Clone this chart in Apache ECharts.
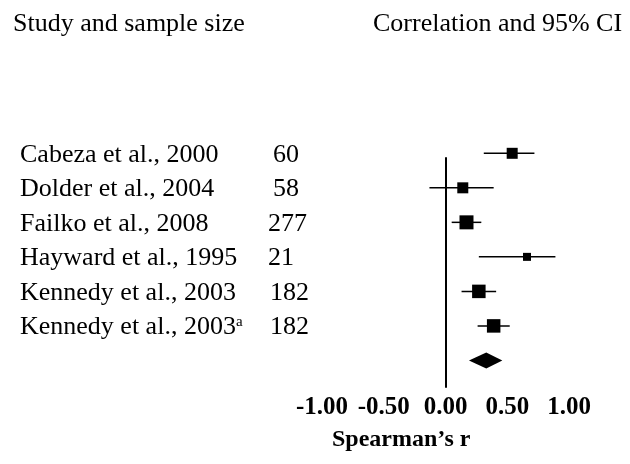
<!DOCTYPE html>
<html>
<head>
<meta charset="utf-8">
<script src="https://cdn.jsdelivr.net/npm/echarts@6/dist/echarts.min.js"></script>
<style>
html, body { margin: 0; padding: 0; background: #fff; }
#chart { width: 630px; height: 464px; }
</style>
</head>
<body>
<div id="chart"></div>
<script>
// 数据
var studies = ['Cabeza et al., 2000', 'Dolder et al., 2004', 'Failko et al., 2008', 'Hayward et al., 1995', 'Kennedy et al., 2003', 'Kennedy et al., 2003'];
var notes = ['', '', '', '', '', 'a'];
var sampleSizes = [60, 58, 277, 21, 182, 182];
var estimates = [0.54, 0.14, 0.17, 0.66, 0.27, 0.39];
var lower = [0.31, -0.13, 0.05, 0.27, 0.13, 0.26];
var upper = [0.72, 0.39, 0.29, 0.89, 0.41, 0.52];
var pooled = [0.33, 0.19, 0.46]; // estimate, lower, upper
var xTicks = [-1, -0.5, 0, 0.5, 1];

// 样式
var FONT = 'Liberation Serif';
var boxPx = [11, 11, 14, 8, 13.5, 13.5];
var nLeft = [273, 273, 268, 268, 270, 270];

function textStyle(txt, size, weight) {
	return { text: txt, fontFamily: FONT, fontSize: size, fontWeight: weight || 'normal', fill: '#000' };
}

function drowChart() {
	var myChart = echarts.init(document.getElementById('chart'));
	var rows = studies.map(function (s, i) { return [i, estimates[i], lower[i], upper[i]]; });
	var pooledRow = studies.length;

	var option = {
		animation: false,
		grid: { left: 322, right: 61, top: 158, bottom: 77 },
		xAxis: {
			type: 'value',
			min: xTicks[0],
			max: xTicks[xTicks.length - 1],
			interval: 0.5,
			axisLine: { show: false },
			axisTick: { show: false },
			splitLine: { show: false },
			axisLabel: {
				margin: 8,
				color: '#000',
				fontFamily: FONT,
				fontWeight: 'bold',
				fontSize: 25,
				formatter: function (v) { return v.toFixed(2); }
			}
		},
		yAxis: {
			type: 'value',
			inverse: true,
			min: 0.136,
			max: 6.77,
			axisLine: { show: true, onZero: true, lineStyle: { color: '#000', width: 2 } },
			axisTick: { show: false },
			axisLabel: { show: false },
			splitLine: { show: false }
		},
		graphic: [
			{ type: 'text', left: 13, top: 11, style: textStyle('Study and sample size', 26) },
			{ type: 'text', left: 373, top: 11, style: textStyle('Correlation and 95% CI', 26) },
			{ type: 'text', left: 332, top: 428, style: textStyle('Spearman\u2019s r', 24, 'bold') }
		],
		series: [
			{
				// 各研究的置信区间和方块
				type: 'custom',
				silent: true,
				data: rows,
				renderItem: function (params, api) {
					var i = api.value(0);
					var c = api.coord([api.value(1), i]);
					var lo = api.coord([api.value(2), i]);
					var hi = api.coord([api.value(3), i]);
					var s = boxPx[i];
					return {
						type: 'group',
						children: [
							{ type: 'line', shape: { x1: lo[0], y1: lo[1], x2: hi[0], y2: hi[1] }, style: { stroke: '#000', lineWidth: 1.5 } },
							{ type: 'rect', shape: { x: c[0] - s / 2, y: c[1] - s / 2, width: s, height: s }, style: { fill: '#000' } }
						]
					};
				}
			},
			{
				// 合并效应菱形
				type: 'custom',
				silent: true,
				data: [[pooledRow, pooled[0], pooled[1], pooled[2]]],
				renderItem: function (params, api) {
					var i = api.value(0);
					var c = api.coord([api.value(1), i]);
					var lo = api.coord([api.value(2), i]);
					var hi = api.coord([api.value(3), i]);
					return {
						type: 'polygon',
						shape: { points: [[lo[0], c[1]], [c[0], c[1] - 8], [hi[0], c[1]], [c[0], c[1] + 8]] },
						style: { fill: '#000' }
					};
				}
			},
			{
				// 左侧文字
				type: 'custom',
				silent: true,
				data: studies.map(function (s, i) { return [0, i]; }),
				renderItem: function (params, api) {
					var i = api.value(1);
					var y = api.coord([0, i])[1] + 1.5;
					var txt = '{m|' + studies[i] + '}' + (notes[i] ? '{s|' + notes[i] + '}' : '');
					var nStyle = textStyle(String(sampleSizes[i]), 26);
					nStyle.verticalAlign = 'middle';
					return {
						type: 'group',
						children: [
							{
								type: 'text',
								x: 20, y: y,
								style: {
									text: txt,
									verticalAlign: 'middle',
									fill: '#000',
									rich: {
										m: { fontFamily: FONT, fontSize: 26, color: '#000' },
										s: { fontFamily: FONT, fontSize: 15, color: '#000', verticalAlign: 'top' }
									}
								}
							},
							{ type: 'text', x: nLeft[i], y: y, style: nStyle }
						]
					};
				}
			}
		]
	};

	myChart.setOption(option);
}

drowChart();
</script>
</body>
</html>
